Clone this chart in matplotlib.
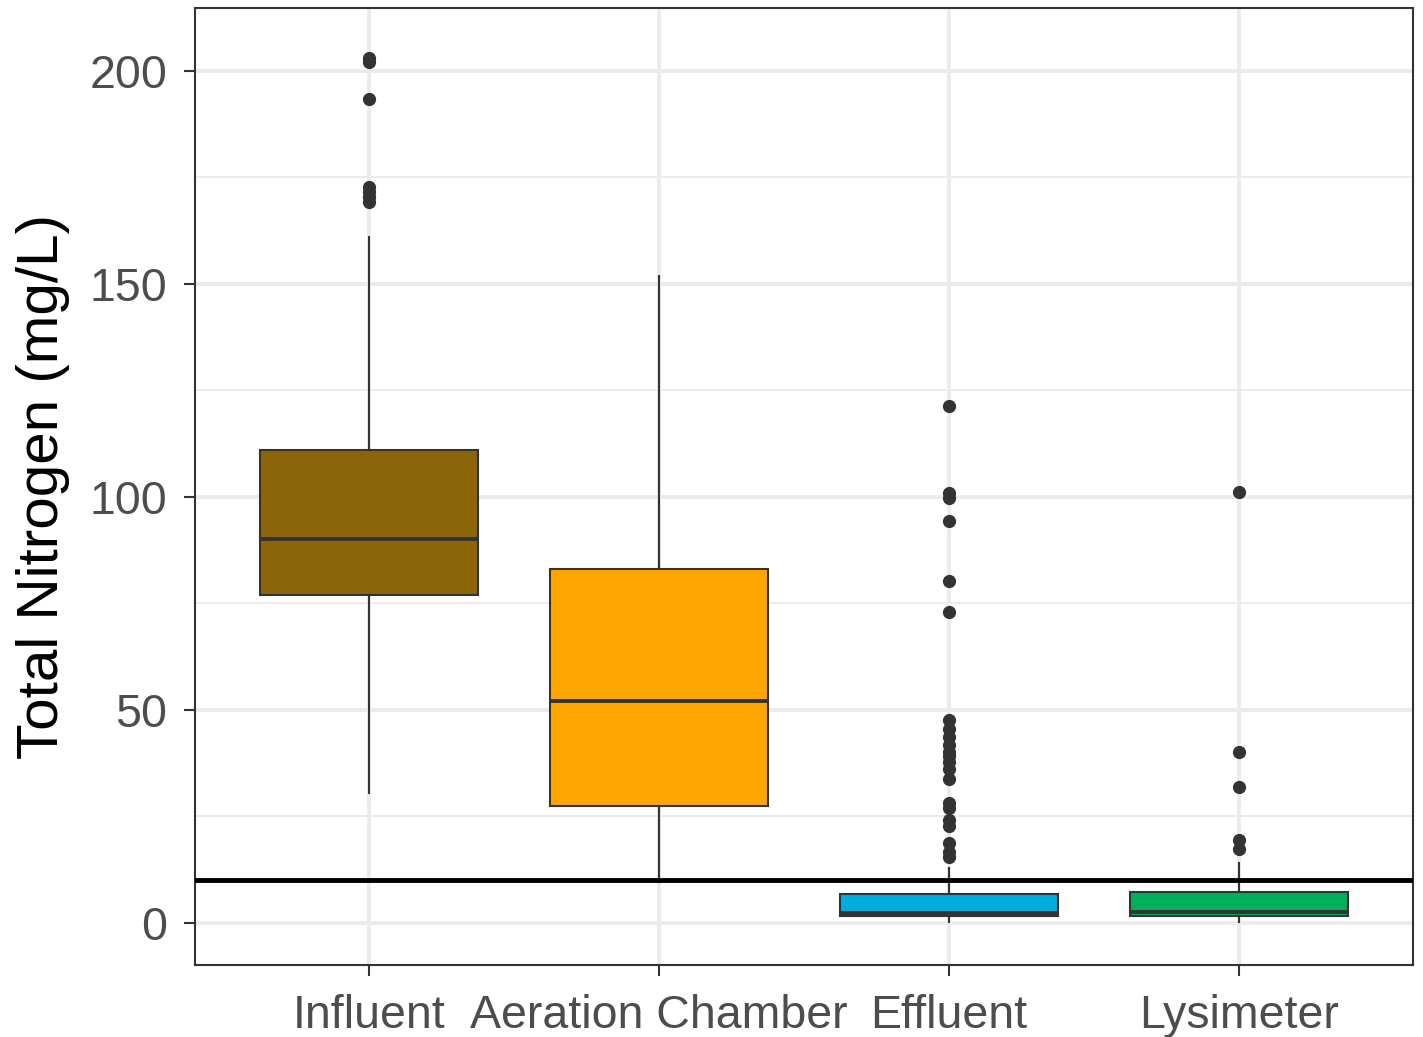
import matplotlib
matplotlib.use('Agg')
import matplotlib.pyplot as plt

plt.rcParams['font.family'] = ['Liberation Sans', 'DejaVu Sans']

# Box statistics (mg/L)
sites = ['Influent', 'Aeration Chamber', 'Effluent', 'Lysimeter']
colors = ['#8B6508', '#FFA500', '#00ADDC', '#00B05A']
q1 = [77.0, 27.5, 1.6, 1.6]
medians = [90.0, 52.1, 2.3, 2.5]
q3 = [111.0, 83.1, 6.8, 7.3]
whis_lo = [30.5, 9.6, 0.3, 0.2]
whis_hi = [161.0, 151.9, 12.9, 14.1]
fliers = [
    [203.0, 202.0, 193.4, 172.8, 171.6, 170.4, 169.2],
    [],
    [121.4, 100.9, 99.8, 94.4, 80.3, 73.0, 47.7, 45.5, 43.7, 41.8, 40.0,
     39.2, 37.8, 36.2, 33.8, 28.2, 27.0, 24.2, 22.8, 18.8, 16.7, 15.5],
    [101.2, 40.2, 31.9, 19.5, 17.3],
]
limit = 10  # reference line

stats = []
for i, s in enumerate(sites):
    stats.append(dict(label=s, q1=q1[i], med=medians[i], q3=q3[i],
                      whislo=whis_lo[i], whishi=whis_hi[i], fliers=fliers[i]))

fig = plt.figure(figsize=(14.23, 10.37), dpi=100)
ax = fig.add_axes([0.137, 0.0694, 0.856, 0.923])

edge = '#333333'
bp = ax.bxp(stats, positions=range(1, 5), widths=0.75, patch_artist=True,
            showcaps=False,
            boxprops=dict(edgecolor=edge, linewidth=1.5),
            medianprops=dict(color=edge, linewidth=2.8),
            whiskerprops=dict(color=edge, linewidth=1.5),
            flierprops=dict(marker='o', markerfacecolor=edge, markeredgecolor=edge,
                            markersize=8.5, linestyle='none'),
            zorder=3)
for patch, c in zip(bp['boxes'], colors):
    patch.set_facecolor(c)

ax.axhline(limit, color='black', linewidth=3.5, zorder=4)

ax.set_xlim(0.4, 4.6)
ax.set_ylim(-9.9, 214.8)
ax.set_yticks([0, 50, 100, 150, 200])
ax.set_yticks([25, 75, 125, 175], minor=True)
ax.set_xticks(range(1, 5))
ax.set_xticklabels(sites)

ax.grid(True, which='major', color='#EBEBEB', linewidth=2.8, zorder=0)
ax.grid(True, which='minor', axis='y', color='#EBEBEB', linewidth=1.4, zorder=0)
ax.set_axisbelow(True)

ax.tick_params(axis='both', which='major', length=8, width=1.5, color='#333333',
               labelsize=33.5, labelcolor='#4D4D4D')
ax.tick_params(axis='x', which='major', pad=13)
ax.tick_params(axis='y', which='major', pad=12)
ax.tick_params(axis='y', which='minor', length=0)
for sp in ax.spines.values():
    sp.set_color('#333333')
    sp.set_linewidth(1.5)

ax.set_ylabel('Total Nitrogen (mg/L)', fontsize=42, color='black', labelpad=14)

fig.savefig('out.png', dpi=100)
